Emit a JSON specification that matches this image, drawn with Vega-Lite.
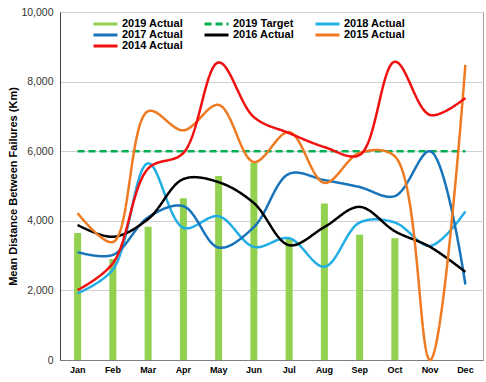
{
  "$schema": "https://vega.github.io/schema/vega-lite/v6.json",
  "width": 423,
  "height": 348,
  "autosize": "none",
  "padding": {"left": 60, "top": 12, "right": 3, "bottom": 22},
  "background": "white",
  "config": {
    "font": "Liberation Sans",
    "view": {"stroke": "#a6a6a6", "strokeWidth": 1}
  },
  "datasets": {
    "bars": [
      {"month": "Jan", "series": "2019 Actual", "value": 3650},
      {"month": "Feb", "series": "2019 Actual", "value": 2900},
      {"month": "Mar", "series": "2019 Actual", "value": 3830},
      {"month": "Apr", "series": "2019 Actual", "value": 4650},
      {"month": "May", "series": "2019 Actual", "value": 5290},
      {"month": "Jun", "series": "2019 Actual", "value": 5660},
      {"month": "Jul", "series": "2019 Actual", "value": 3500},
      {"month": "Aug", "series": "2019 Actual", "value": 4500},
      {"month": "Sep", "series": "2019 Actual", "value": 3600},
      {"month": "Oct", "series": "2019 Actual", "value": 3500}
    ],
    "lines": [
      {"month": "Jan", "series": "2019 Target", "value": 6000},
      {"month": "Feb", "series": "2019 Target", "value": 6000},
      {"month": "Mar", "series": "2019 Target", "value": 6000},
      {"month": "Apr", "series": "2019 Target", "value": 6000},
      {"month": "May", "series": "2019 Target", "value": 6000},
      {"month": "Jun", "series": "2019 Target", "value": 6000},
      {"month": "Jul", "series": "2019 Target", "value": 6000},
      {"month": "Aug", "series": "2019 Target", "value": 6000},
      {"month": "Sep", "series": "2019 Target", "value": 6000},
      {"month": "Oct", "series": "2019 Target", "value": 6000},
      {"month": "Nov", "series": "2019 Target", "value": 6000},
      {"month": "Dec", "series": "2019 Target", "value": 6000},
      {"month": "Jan", "series": "2018 Actual", "value": 1920},
      {"month": "Feb", "series": "2018 Actual", "value": 2600},
      {"month": "Mar", "series": "2018 Actual", "value": 5650},
      {"month": "Apr", "series": "2018 Actual", "value": 3800},
      {"month": "May", "series": "2018 Actual", "value": 4130},
      {"month": "Jun", "series": "2018 Actual", "value": 3250},
      {"month": "Jul", "series": "2018 Actual", "value": 3500},
      {"month": "Aug", "series": "2018 Actual", "value": 2680},
      {"month": "Sep", "series": "2018 Actual", "value": 3950},
      {"month": "Oct", "series": "2018 Actual", "value": 3950},
      {"month": "Nov", "series": "2018 Actual", "value": 3280},
      {"month": "Dec", "series": "2018 Actual", "value": 4270},
      {"month": "Jan", "series": "2017 Actual", "value": 3100},
      {"month": "Feb", "series": "2017 Actual", "value": 3020},
      {"month": "Mar", "series": "2017 Actual", "value": 4100},
      {"month": "Apr", "series": "2017 Actual", "value": 4420},
      {"month": "May", "series": "2017 Actual", "value": 3230},
      {"month": "Jun", "series": "2017 Actual", "value": 3820},
      {"month": "Jul", "series": "2017 Actual", "value": 5350},
      {"month": "Aug", "series": "2017 Actual", "value": 5170},
      {"month": "Sep", "series": "2017 Actual", "value": 4970},
      {"month": "Oct", "series": "2017 Actual", "value": 4710},
      {"month": "Nov", "series": "2017 Actual", "value": 6000},
      {"month": "Dec", "series": "2017 Actual", "value": 2170},
      {"month": "Jan", "series": "2016 Actual", "value": 3880},
      {"month": "Feb", "series": "2016 Actual", "value": 3540},
      {"month": "Mar", "series": "2016 Actual", "value": 4050},
      {"month": "Apr", "series": "2016 Actual", "value": 5200},
      {"month": "May", "series": "2016 Actual", "value": 5110},
      {"month": "Jun", "series": "2016 Actual", "value": 4510},
      {"month": "Jul", "series": "2016 Actual", "value": 3300},
      {"month": "Aug", "series": "2016 Actual", "value": 3820},
      {"month": "Sep", "series": "2016 Actual", "value": 4400},
      {"month": "Oct", "series": "2016 Actual", "value": 3700},
      {"month": "Nov", "series": "2016 Actual", "value": 3250},
      {"month": "Dec", "series": "2016 Actual", "value": 2530},
      {"month": "Jan", "series": "2015 Actual", "value": 4220},
      {"month": "Feb", "series": "2015 Actual", "value": 3390},
      {"month": "Mar", "series": "2015 Actual", "value": 7150},
      {"month": "Apr", "series": "2015 Actual", "value": 6600},
      {"month": "May", "series": "2015 Actual", "value": 7330},
      {"month": "Jun", "series": "2015 Actual", "value": 5690},
      {"month": "Jul", "series": "2015 Actual", "value": 6550},
      {"month": "Aug", "series": "2015 Actual", "value": 5090},
      {"month": "Sep", "series": "2015 Actual", "value": 5950},
      {"month": "Oct", "series": "2015 Actual", "value": 5850},
      {"month": "Nov", "series": "2015 Actual", "value": 0},
      {"month": "Dec", "series": "2015 Actual", "value": 8480},
      {"month": "Jan", "series": "2014 Actual", "value": 2010},
      {"month": "Feb", "series": "2014 Actual", "value": 2780},
      {"month": "Mar", "series": "2014 Actual", "value": 5500},
      {"month": "Apr", "series": "2014 Actual", "value": 5950},
      {"month": "May", "series": "2014 Actual", "value": 8550},
      {"month": "Jun", "series": "2014 Actual", "value": 6980},
      {"month": "Jul", "series": "2014 Actual", "value": 6520},
      {"month": "Aug", "series": "2014 Actual", "value": 6120},
      {"month": "Sep", "series": "2014 Actual", "value": 5890},
      {"month": "Oct", "series": "2014 Actual", "value": 8570},
      {"month": "Nov", "series": "2014 Actual", "value": 7040},
      {"month": "Dec", "series": "2014 Actual", "value": 7530}
    ]
  },
  "encoding": {
    "x": {
      "field": "month",
      "type": "ordinal",
      "sort": ["Jan", "Feb", "Mar", "Apr", "May", "Jun", "Jul", "Aug", "Sep", "Oct", "Nov", "Dec"],
      "scale": {"paddingInner": 0, "paddingOuter": 0},
      "axis": {
        "title": null,
        "labelAngle": 0,
        "labelFontWeight": "bold",
        "labelFontSize": 9,
        "labelColor": "#000000",
        "labelPadding": 5,
        "ticks": false,
        "domainColor": "#7f7f7f",
        "grid": false
      }
    },
    "y": {
      "field": "value",
      "type": "quantitative",
      "scale": {"domain": [0, 10000]},
      "axis": {
        "title": "Mean Distance Between Failures (Km)",
        "titleFontSize": 11,
        "titleFontWeight": "bold",
        "titleColor": "#000000",
        "titlePadding": 2,
        "values": [0, 2000, 4000, 6000, 8000, 10000],
        "format": ",.0f",
        "labelFontSize": 10.5,
        "labelColor": "#333333",
        "labelPadding": 7,
        "ticks": false,
        "domainColor": "#404040",
        "gridColor": "#d0d0d0"
      }
    },
    "color": {
      "field": "series",
      "type": "nominal",
      "sort": ["2019 Actual", "2019 Target", "2018 Actual", "2017 Actual", "2016 Actual", "2015 Actual", "2014 Actual"],
      "scale": {
        "domain": ["2019 Actual", "2019 Target", "2018 Actual", "2017 Actual", "2016 Actual", "2015 Actual", "2014 Actual"],
        "range": ["#92D050", "#00B050", "#22AEE4", "#1874BA", "#000000", "#EE7A22", "#F01010"]
      },
      "legend": {
        "title": null,
        "orient": "none",
        "direction": "horizontal",
        "legendX": 32,
        "legendY": 7,
        "padding": 0,
        "columns": 3,
        "columnPadding": 19,
        "rowPadding": 0,
        "clipHeight": 10,
        "symbolType": "stroke",
        "symbolSize": 64,
        "symbolStrokeWidth": 3,
        "labelOffset": 3,
        "labelFontSize": 11,
        "labelFontWeight": "bold",
        "labelColor": "#000000",
        "encode": {
          "symbols": {"update": {"size": {"value": 576}}}
        }
      }
    }
  },
  "layer": [
    {
      "data": {"name": "bars"},
      "mark": {"type": "bar", "size": 7}
    },
    {
      "data": {"name": "lines"},
      "mark": {"type": "line", "interpolate": "catmull-rom", "strokeWidth": 2.5},
      "encoding": {
        "strokeDash": {
          "field": "series",
          "type": "nominal",
          "scale": {
            "domain": ["2019 Actual", "2019 Target", "2018 Actual", "2017 Actual", "2016 Actual", "2015 Actual", "2014 Actual"],
            "range": [[1, 0], [7, 4], [1, 0], [1, 0], [1, 0], [1, 0], [1, 0]]
          },
          "legend": null
        }
      }
    }
  ]
}
